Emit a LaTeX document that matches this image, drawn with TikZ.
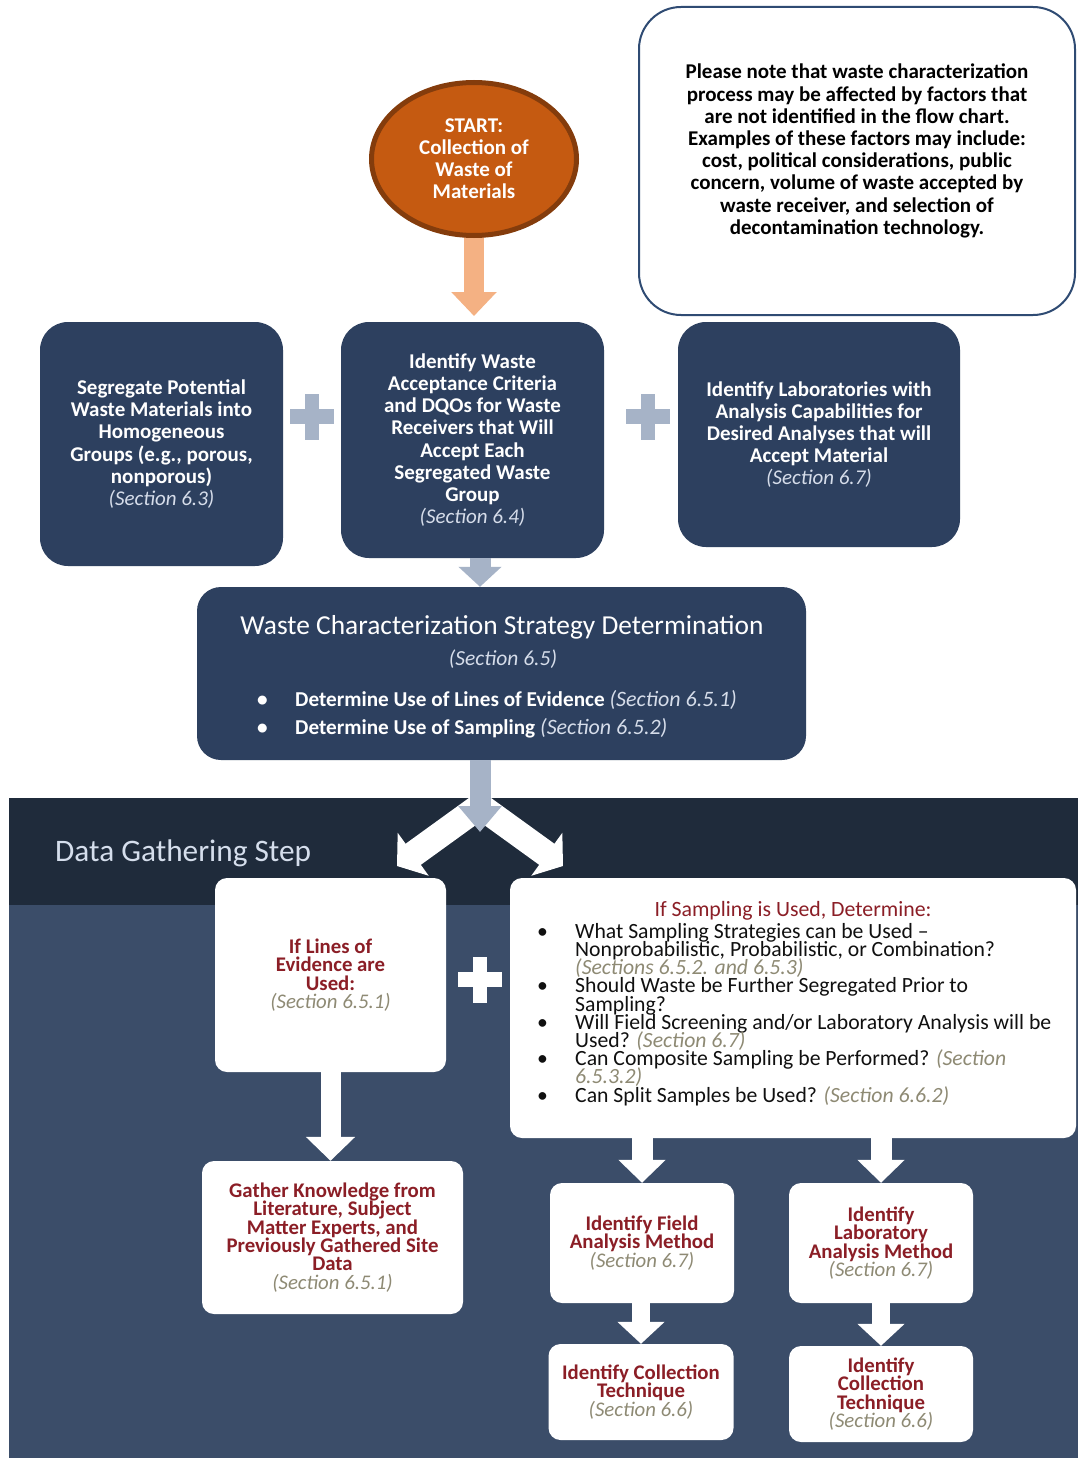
\documentclass[tikz,border=0pt]{standalone}
\usepackage{fontspec}
\setmainfont{Carlito}
\usetikzlibrary{shapes.geometric,arrows.meta}
\definecolor{navy}{HTML}{2D405F}
\definecolor{banddark}{HTML}{1F2B3B}
\definecolor{bandlight}{HTML}{3B4D69}
\definecolor{greyblue}{HTML}{A6B3C7}
\definecolor{maroon}{HTML}{8B1E26}
\definecolor{secgrey}{HTML}{8E8A74}
\definecolor{seclight}{HTML}{D6DDEA}
\definecolor{startfill}{HTML}{C55A11}
\definecolor{startline}{HTML}{843C0C}
\definecolor{orangearrow}{HTML}{F4B183}
\definecolor{noteline}{HTML}{2F4B73}
\definecolor{labeltext}{HTML}{D5DEEC}
\definecolor{listtext}{HTML}{101010}
\newcommand{\tightlines}{\lineskiplimit=-100pt\lineskip=0pt}
\newcommand{\secL}[1]{{\mdseries\itshape\color{seclight}#1}}
\newcommand{\secG}[1]{{\mdseries\itshape\color{secgrey}#1}}
\newcommand{\bul}{\makebox[38pt][l]{\textbullet}}
\begin{document}
\begin{tikzpicture}[x=1pt,y=-1pt,
  navybox/.style={fill=navy, rounded corners=28pt, text=white, align=center, inner sep=0pt,
    font=\bfseries\fontsize{21}{22.2}\selectfont},
  whitebox/.style={fill=white, rounded corners=12pt, text=maroon, align=center, inner sep=0pt,
    font=\bfseries\fontsize{20.8}{18.3}\selectfont\tightlines},
  greyarrow/.style={draw=greyblue, line width=21pt, -{Triangle[length=20pt,width=42pt]}},
  whitearrow/.style={draw=white, line width=20pt, -{Triangle[length=24pt,width=48pt]}},
  plaintext/.style={inner sep=0pt},
]
\useasboundingbox (0,0) rectangle (1078,1458);
\fill[white] (0,0) rectangle (1078,1458);
% bands
\fill[banddark] (9,798) rectangle (1078,905);
\fill[bandlight] (9,905) rectangle (1078,1458);

% note box
\node (note) [draw=noteline, line width=2pt, fill=white, rounded corners=42pt,
  minimum width=436pt, minimum height=308pt] at (857,161) {};
\node (notetext) [plaintext, align=center, font=\bfseries\fontsize{21}{22.2}\selectfont, text=black] at (857,151)
 {Please note that waste characterization\\process may be affected by factors that\\are not identified in the flow chart.\\Examples of these factors may include:\\cost, political considerations, public\\concern, volume of waste accepted by\\waste receiver, and selection of\\decontamination technology.};

% top row boxes
\node (box1) [navybox, minimum width=243pt, minimum height=244pt] at (161.5,444)
 {Segregate Potential\\Waste Materials into\\Homogeneous\\Groups (e.g., porous,\\nonporous)\\\secL{(Section 6.3)}};
\node (box2) [navybox, minimum width=263pt, minimum height=236pt] at (472.5,440)
 {Identify Waste\\Acceptance Criteria\\and DQOs for Waste\\Receivers that Will\\Accept Each\\Segregated Waste\\Group\\\secL{(Section 6.4)}};
\node (box3) [navybox, minimum width=282pt, minimum height=225pt] at (819,434.5)
 {Identify Laboratories with\\Analysis Capabilities for\\Desired Analyses that will\\Accept Material\\\secL{(Section 6.7)}};

% start arrow and ellipse
\draw[draw=orangearrow, line width=20pt, -{Triangle[length=24pt,width=44pt]}] (474,200) -- (474,316);
\node (start) [ellipse, draw=startline, line width=5pt, fill=startfill, minimum width=205pt, minimum height=153pt,
  text=white, align=center, inner sep=0pt, font=\bfseries\fontsize{21}{22}\selectfont] at (474,159)
 {START:\\Collection of\\Waste of\\Materials};

% plus signs
\fill[greyblue] (305,394) rectangle (319,440);
\fill[greyblue] (290,409) rectangle (334,424);
\fill[greyblue] (641,394) rectangle (655,440);
\fill[greyblue] (626,409) rectangle (670,424);

% strategy box
\node (strat) [fill=navy, rounded corners=24pt, minimum width=609pt, minimum height=173pt] at (501.5,673.5) {};
\node (stitle) [plaintext, anchor=base, text=white, font=\fontsize{27.4}{30}\selectfont] at (502,634)
 {Waste Characterization Strategy Determination};
\node (ssec) [plaintext, anchor=base, text=seclight, font=\itshape\fontsize{21.5}{24}\selectfont] at (503,665)
 {(Section 6.5)};
\node (sb1) [plaintext, anchor=base west, text=white, font=\bfseries\fontsize{21.2}{24}\selectfont] at (257,706)
 {\makebox[38pt][l]{\textbullet}Determine Use of Lines of Evidence {\fontsize{22}{24}\selectfont\secL{(Section 6.5.1)}}};
\node (sb2) [plaintext, anchor=base west, text=white, font=\bfseries\fontsize{21.2}{24}\selectfont] at (257,734)
 {\makebox[38pt][l]{\textbullet}Determine Use of Sampling {\fontsize{22}{24}\selectfont\secL{(Section 6.5.2)}}};

% grey arrow into strategy box
\coordinate (gx) at (480,0);
\draw[greyarrow] (box2.south -| gx) -- (strat.north -| gx);

% Data gathering label
\node (dgs) [plaintext, anchor=base west, text=labeltext, font=\fontsize{31.3}{34}\selectfont] at (55,861)
 {Data Gathering Step};

% white boxes
\node (lines) [whitebox, minimum width=231pt, minimum height=194pt] at (330.5,975)
 {If Lines of\\Evidence are\\Used:\\\secG{(Section 6.5.1)}};
\node (samp) [whitebox, minimum width=566pt, minimum height=260pt] at (793,1008) {};
\node (samptitle) [plaintext, anchor=base, text=maroon, font=\fontsize{21.8}{24}\selectfont] at (793,916)
 {If Sampling is Used, Determine:};
\node (samplist) [plaintext, anchor=base west, align=left, text=listtext, font=\fontsize{21.7}{18.2}\selectfont\tightlines] at (537,1102)
 {\bul What Sampling Strategies can be Used –\\
  \hspace*{38pt}Nonprobabilistic, Probabilistic, or Combination?\\
  \hspace*{38pt}\secG{(Sections 6.5.2. and 6.5.3)}\\
  \bul Should Waste be Further Segregated Prior to\\
  \hspace*{38pt}Sampling?\\
  \bul Will Field Screening and/or Laboratory Analysis will be\\
  \hspace*{38pt}Used? \secG{(Section 6.7)}\\
  \bul Can Composite Sampling be Performed? \secG{(Section}\\
  \hspace*{38pt}\secG{6.5.3.2)}\\
  \bul Can Split Samples be Used? \secG{(Section 6.6.2)}};
\node (gather) [whitebox, minimum width=261pt, minimum height=153pt] at (332.5,1237.5)
 {Gather Knowledge from\\Literature, Subject\\Matter Experts, and\\Previously Gathered Site\\Data\\\secG{(Section 6.5.1)}};
\node (field) [whitebox, minimum width=184pt, minimum height=120pt] at (642,1243)
 {Identify Field\\Analysis Method\\\secG{(Section 6.7)}};
\node (lab) [whitebox, minimum width=184pt, minimum height=120pt] at (881,1243)
 {Identify\\Laboratory\\Analysis Method\\\secG{(Section 6.7)}};
\node (coll1) [whitebox, minimum width=185pt, minimum height=96pt] at (641,1392)
 {Identify Collection\\Technique\\\secG{(Section 6.6)}};
\node (coll2) [whitebox, minimum width=184pt, minimum height=96pt] at (881,1394)
 {Identify\\Collection\\Technique\\\secG{(Section 6.6)}};

% white plus
\fill[white] (473,957) rectangle (487,1003);
\fill[white] (458,972) rectangle (502,987);

% diverging white arrows
\coordinate (split) at (480,806);
\coordinate (ltip) at (397,866);
\coordinate (rtip) at (563,866);
\draw[draw=white, line width=26pt, line join=miter,
  {Triangle[length=20pt,width=52pt]}-{Triangle[length=20pt,width=52pt]}] (ltip) -- (split) -- (rtip);
\coordinate (gtip) at (480,832);
\draw[greyarrow, -{Triangle[length=26pt,width=42pt]}] (strat.south -| gx) -- (gtip);

% white arrows
\draw[whitearrow] (lines.south) -- (lines.south |- gather.north);
\draw[whitearrow, line width=21pt, -{Triangle[length=23pt,width=46pt]}] (samp.south -| field.north) -- (field.north);
\draw[whitearrow, line width=21pt, -{Triangle[length=23pt,width=46pt]}] (samp.south -| lab.north) -- (lab.north);
\draw[whitearrow, line width=18pt, -{Triangle[length=22pt,width=46pt]}] (field.south -| coll1.north) -- (coll1.north);
\draw[whitearrow, line width=18pt, -{Triangle[length=22pt,width=46pt]}] (lab.south) -- (coll2.north);
\end{tikzpicture}
\end{document}
